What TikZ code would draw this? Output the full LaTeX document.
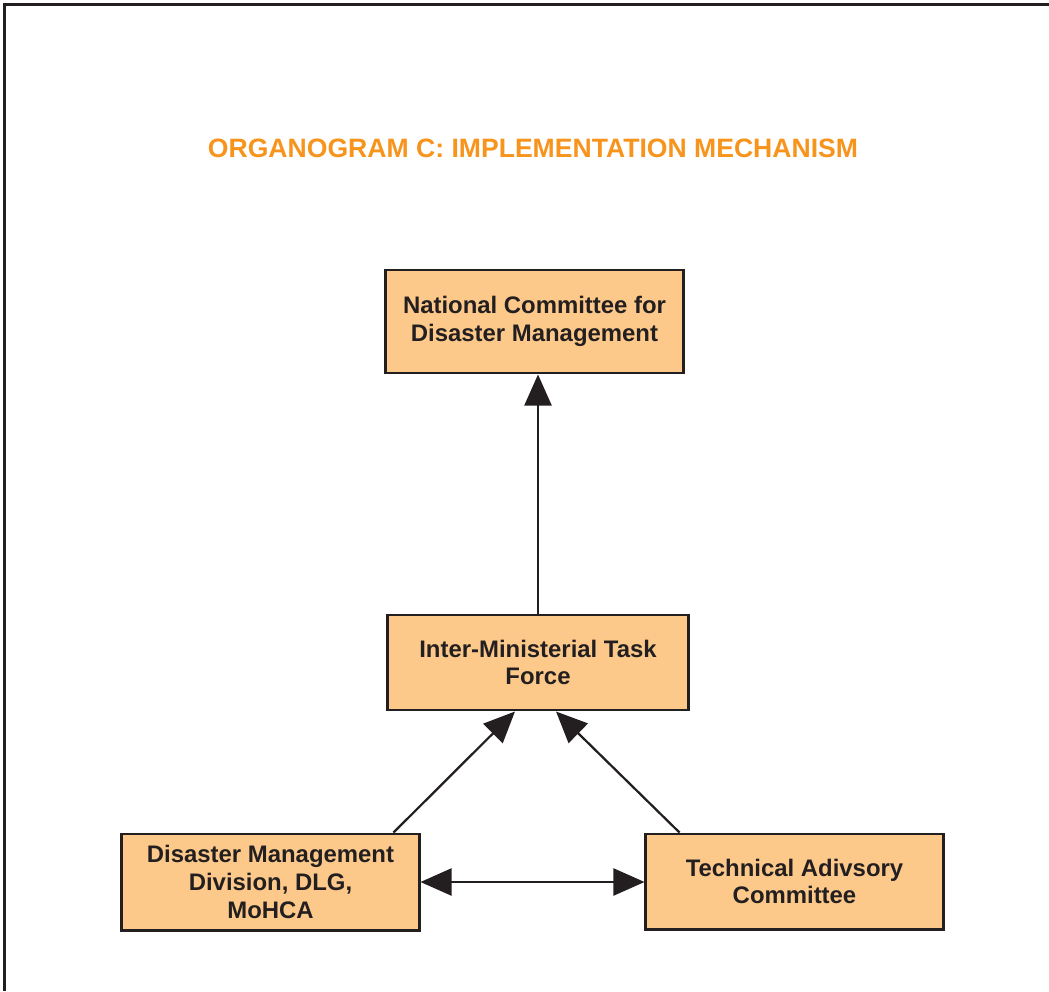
\documentclass[tikz,border=0pt]{standalone}
\usepackage{fontspec}
\setmainfont{Liberation Sans}
\usetikzlibrary{arrows.meta}
\definecolor{boxfill}{RGB}{253,201,138}
\definecolor{titleorange}{RGB}{247,148,29}
\definecolor{inkdark}{RGB}{35,31,32}
\tikzset{
  orgbox/.style={draw=inkdark, fill=boxfill, line width=2.1pt, align=center,
    font=\bfseries\fontsize{17}{19.8}\selectfont, text=inkdark,
    minimum width=7.425cm, inner sep=0pt},
  orgarrow/.style={draw=inkdark, line width=1.6pt, -{Triangle[width=0.68cm,length=0.78cm]}},
  orgboth/.style={orgarrow, {Triangle[width=0.68cm,length=0.78cm]}-{Triangle[width=0.68cm,length=0.78cm]}}
}
\begin{document}
\begin{tikzpicture}[x=0.025cm,y=-0.025cm]
    \useasboundingbox (0,0) rectangle (1049,991);
    %cornice
    \draw[inkdark, line width=2.2pt] (4.5,991) -- (4.5,4.5) -- (1049,4.5);
    \node[text=titleorange, font=\bfseries\fontsize{18.9}{22}\selectfont] (title) at (533,148) {ORGANOGRAM C: IMPLEMENTATION MECHANISM};
    %caselle
    \node[orgbox, minimum height=2.575cm] (ncdm) at (534.5,321.5) {National Committee for\\Disaster Management};
    \node[orgbox, minimum width=7.5cm, minimum height=2.375cm] (imtf) at (538,662.5) {Inter-Ministerial Task\\Force};
    \node[orgbox, minimum height=2.4cm] (dmd) at (270.5,882) {Disaster Management\\Division, DLG,\\MoHCA};
    \node[orgbox, minimum height=2.375cm] (tac) at (794.5,881.5) {Technical Adivsory\\Committee};
    %frecce
    \draw[orgarrow] (imtf.north) -- (imtf.north |- ncdm.south);
    \draw[orgarrow] ([xshift=-0.675cm]dmd.north east) -- ([xshift=-0.575cm]imtf.south);
    \draw[orgarrow] ([xshift=0.875cm]tac.north west) -- ([xshift=0.45cm]imtf.south);
    \draw[orgboth] (dmd.east) -- (dmd.east -| tac.west);
\end{tikzpicture}
\end{document}
